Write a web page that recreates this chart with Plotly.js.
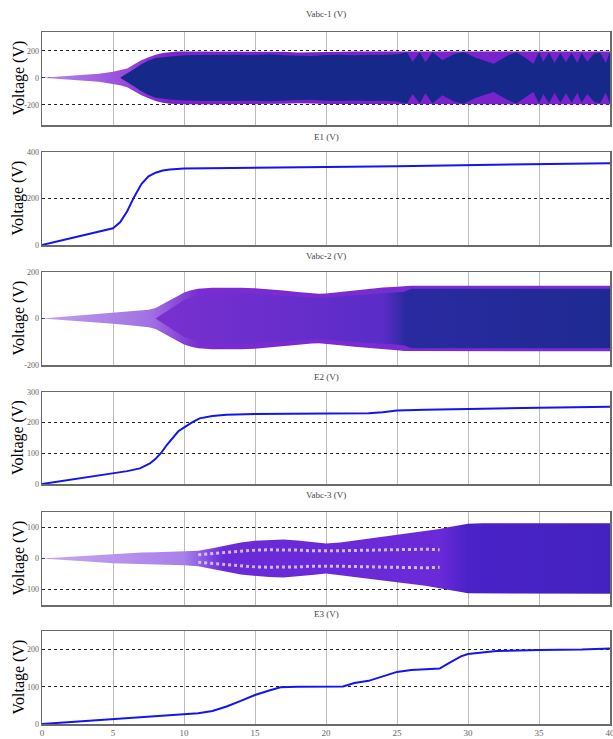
<!DOCTYPE html>
<html>
<head>
<meta charset="utf-8">
<script src="https://cdn.plot.ly/plotly-3.0.1.min.js"></script>
<style>html,body{margin:0;padding:0;background:#fff;}#chart{width:613px;height:739px;}</style>
</head>
<body>
<div id="chart"></div>
<script>
// ---------- DATA ----------
// Panel 1: Vabc-1 envelope (V)
const t1Outer = [0,1,2,3,4,5,5.5,6,6.5,7,7.5,8,8.5,9,9.5,10,12,15,17,18,19,20,21,22,25,28,30,32,35,38,40];
const v1Outer = [0,8,15,22,30,45,55,70,100,130,152,172,185,192,195,196,196,196,193,188,190,195,193,196,196,196,196,196,196,196,196];
const t1Inner = [5.5,6,6.5,7,7.5,8,9,10,11,12,13,14,15,16,17,18,19,20,21,22,23,24,25,25.7,26.1,26.6,27.0,27.5,28.2,29.0,29.7,30.5,31.8,32.8,33.4,34.0,34.6,35.0,35.3,35.7,36.1,36.5,36.9,37.3,37.7,38.0,38.4,38.9,39.3,39.7,40];
const v1Inner = [0,30,65,100,128,148,160,168,170,172,175,172,170,174,168,165,162,170,172,168,172,170,175,190,120,190,115,190,130,175,192,150,105,165,190,150,105,190,120,188,110,185,115,185,110,185,120,180,188,110,190];

// Panel 2: E1 (V)
const tE1 = [0,1,2,3,4,5,5.5,6,6.5,7,7.5,8,8.5,9,10,12,15,20,25,30,35,40];
const vE1 = [0,14,28,42,56,72,98,145,208,262,295,311,320,325,329,331,333,336,339,343,348,352];

// Panel 3: Vabc-2 envelope (V)
const t2Outer = [0,1,2,3,4,5,6,7,7.5,8,8.5,9,9.5,10,10.5,11,12,13,14,15,16,17,18,19,19.5,20,21,22,23,24,25,25.5,26,28,30,35,40];
const v2Outer = [0,5,10,14,18,23,28,34,38,45,60,78,95,112,122,128,132,133,132,130,126,120,114,108,106,108,115,122,128,133,137,140,141,141,141,141,141];
const t2Inner = [8,9,10,11,12,14,16,18,19.4,21,23,25,25.5,26,28,30,35,40];
const v2Inner = [0,40,80,100,108,110,104,95,88,95,105,112,115,128,128,128,128,128];

// Panel 4: E2 (V)
const tE2 = [0,2,4,5,6,6.9,7.6,8,8.4,8.8,9.25,9.6,10.1,10.6,11.1,12,13,15,20,23,24,24.5,25,27,30,35,40];
const vE2 = [0,14,28,35,42,51,67,82,102,128,154,172,187,202,214,222,226,228,230,231,234,238,240,242,245,249,252];

// Panel 5: Vabc-3 envelope (V)
const t3Outer = [0,1,2,3,4,5,6,7,8,9,10,11,12,13,14,15,16,17,18,19,20,21,22,23,24,25,26,27,28,28.5,29,29.5,30,31,35,40];
const v3Outer = [0,3,6,9,12,15,17,19,20,21,22,25,33,43,52,57,60,61,58,53,48,52,58,64,70,76,82,88,95,100,104,108,112,114,114,114];
const t3Streak = [11,12,13,14,15,16,17,18,19,20,21,22,23,24,25,26,27,28];
const v3Streak = [12,16,20,24,27,28,28,27,25,24,25,26,27,28,29,30,30,28];

// Panel 6: E3 (V)
const tE3 = [0,2,5,8,10,11,12,13,14,15,16,16.8,18,20,21.2,22,23,24,25,26,27,28,28.5,29,29.5,30,31,32,35,38,40];
const vE3 = [0,5,12,20,26,29,35,47,62,78,90,99,100,100,101,110,116,128,140,145,147,149,160,172,182,188,193,196,199,200,203];

// Titles and tick labels
const panelTitles = ['Vabc-1 (V)','E1 (V)','Vabc-2 (V)','E2 (V)','Vabc-3 (V)','E3 (V)'];
const yRanges = [[-350,340],[0,400],[-200,200],[0,300],[-150,150],[0,250]];
const yTicks = [[-200,0,200],[0,200,400],[-200,0,200],[0,100,200,300],[-100,0,100],[0,100,200]];
const xTicks = [0,5,10,15,20,25,30,35,40];

// ---------- BUILD ----------
function band(t, v){
  return {x: t.concat(t.slice().reverse()), y: v.concat(v.slice().reverse().map(a=>-a))};
}
function bandTrace(t, v, axis, color, grad){
  const b = band(t, v);
  const tr = {x:b.x, y:b.y, xaxis:'x'+axis, yaxis:'y'+axis, mode:'lines', fill:'toself',
    line:{width:0, color:color}, fillcolor:color, hoverinfo:'skip', showlegend:false};
  if(grad){ tr.fillgradient = {type:'horizontal', start:grad.start, stop:grad.stop, colorscale:grad.cs}; }
  return tr;
}
function lineTrace(t, v, axis, color, w, dash){
  return {x:t, y:v, xaxis:'x'+axis, yaxis:'y'+axis, mode:'lines',
    line:{color:color, width:w, dash:dash||'solid'}, hoverinfo:'skip', showlegend:false};
}

const traces = [];
// Panel 1
traces.push(bandTrace(t1Outer, v1Outer, '', '#7a22cc', {start:0, stop:9, cs:[[0,'#b88ae8'],[0.6,'#9a50dc'],[1,'#7a22cc']]}));
traces.push(bandTrace(t1Inner, v1Inner, '', '#16288a'));
// Panel 2
traces.push(lineTrace(tE1, vE1, '2', '#1414f0', 2));
// Panel 3
traces.push(bandTrace(t2Outer, v2Outer, '3', '#7a2cd2', {start:0, stop:11, cs:[[0,'#c0a0ee'],[0.7,'#a070e2'],[1,'#7a2cd2']]}));
traces.push(bandTrace(t2Inner, v2Inner, '3', '#5a2cc8', {start:8, stop:40, cs:[[0,'#7a30d0'],[0.5,'#5a2cc8'],[0.55,'#2a2aa0'],[1,'#1e2a92']]}));
// Panel 4
traces.push(lineTrace(tE2, vE2, '4', '#1414f0', 2));
// Panel 5
traces.push(bandTrace(t3Outer, v3Outer, '5', '#6a2ad8', {start:0, stop:40, cs:[[0,'#c8a8f0'],[0.25,'#a880ea'],[0.32,'#6a2ad8'],[0.7,'#6a2ad8'],[0.75,'#4a22c8'],[1,'#4422c0']]}));
traces.push(lineTrace(t3Streak, v3Streak, '5', 'rgba(225,210,248,0.85)', 3, 'dot'));
traces.push(lineTrace(t3Streak, v3Streak.map(a=>-a), '5', 'rgba(225,210,248,0.85)', 3, 'dot'));
// Panel 6
traces.push(lineTrace(tE3, vE3, '6', '#1414f0', 2));

// Layout
const H = 739, B = 15, plotH = H - B;
const panelPix = [[32,125],[152,245],[272,365],[392,484],[512,605],[631,724]];
const titleY = [14,137,256,377,495,614];
const layout = {
  width:613, height:739,
  margin:{l:42, r:3, t:0, b:B},
  paper_bgcolor:'#fff', plot_bgcolor:'#fff',
  showlegend:false,
  font:{family:'Liberation Serif, serif', size:9, color:'#555'},
  annotations:[]
};
const axNames = ['','2','3','4','5','6'];
axNames.forEach((a,i)=>{
  const dom = [(plotH - panelPix[i][1])/plotH, (plotH - panelPix[i][0])/plotH];
  layout['xaxis'+a] = {
    domain:[0,1], anchor:'y'+a, range:[0,40], tickvals:xTicks, ticktext:xTicks.map(String),
    showticklabels: i===5, ticks:'', showgrid:true, gridcolor:'#bcbcbc', gridwidth:1,
    zeroline:false, showline:true, mirror:true, linecolor:'#6a6a6a', linewidth:1.5,
    ticklabeloverflow:'allow',
    tickfont:{family:'Liberation Serif, serif', size:9, color:'#666'}
  };
  if(i>0) layout['xaxis'+a].matches = 'x';
  layout['yaxis'+a] = {
    domain:dom, anchor:'x'+a, range:yRanges[i], tickvals:yTicks[i], ticktext:yTicks[i].map(v=>v<0?'-'+Math.abs(v):String(v)),
    ticks:'', showgrid:true, gridcolor:'#222', griddash:'dot', gridwidth:1,
    zeroline:false, showline:true, mirror:true, linecolor:'#6a6a6a', linewidth:1.5,
    tickfont:{family:'Liberation Serif, serif', size:8, color:'#666'}
  };
  layout.annotations.push({
    text:panelTitles[i], xref:'paper', yref:'paper', x:0.5, y:(plotH - titleY[i])/plotH,
    xanchor:'center', yanchor:'middle', showarrow:false,
    font:{family:'Liberation Serif, serif', size:9, color:'#444'}
  });
  layout.annotations.push({
    text:'Voltage (V)', xref:'paper', yref:'paper', x:(18-42)/568, y:(plotH - (panelPix[i][0]+panelPix[i][1])/2)/plotH,
    xanchor:'center', yanchor:'middle', textangle:-90, showarrow:false,
    font:{family:'Liberation Serif, Times New Roman, serif', size:16, color:'#000'}
  });
});

Plotly.newPlot('chart', traces, layout, {staticPlot:true, displayModeBar:false});
</script>
</body>
</html>
